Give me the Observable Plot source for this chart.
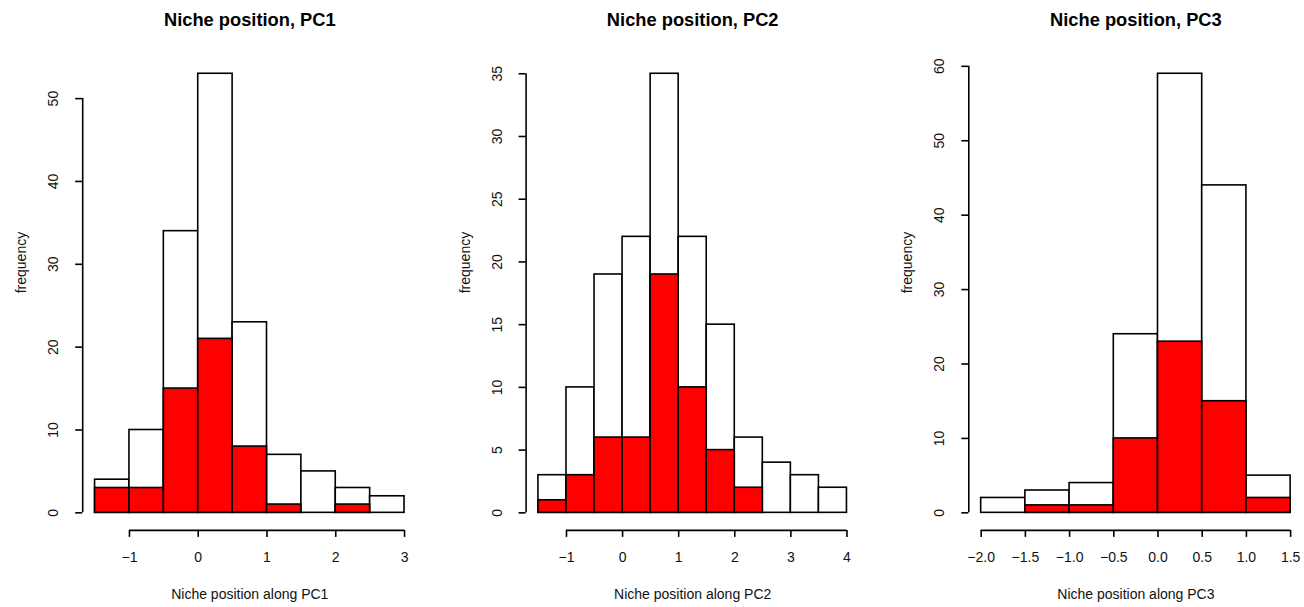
<!DOCTYPE html>
<html>
<head>
<meta charset="utf-8">
<script src="https://cdn.jsdelivr.net/npm/d3@7"></script>
<script src="https://cdn.jsdelivr.net/npm/@observablehq/plot@0.6"></script>
<style>
  html, body { margin: 0; padding: 0; background: #fff; }
  #wrap { position: relative; width: 1304px; height: 607px; overflow: hidden; }
  #wrap svg { position: absolute; top: 0; overflow: visible; }
</style>
</head>
<body>
<div id="wrap"></div>
<script>
// ---- Data ----
// PC1
const pc1Breaks = [-1.5, -1, -0.5, 0, 0.5, 1, 1.5, 2, 2.5, 3];
const pc1Total  = [4, 10, 34, 53, 23, 7, 5, 3, 2];
const pc1Red    = [3, 3, 15, 21, 8, 1, 0, 1, 0];
const pc1XTicks = [-1, 0, 1, 2, 3];
const pc1YTicks = [0, 10, 20, 30, 40, 50];

// PC2
const pc2Breaks = [-1.5, -1, -0.5, 0, 0.5, 1, 1.5, 2, 2.5, 3, 3.5, 4];
const pc2Total  = [3, 10, 19, 22, 35, 22, 15, 6, 4, 3, 2];
const pc2Red    = [1, 3, 6, 6, 19, 10, 5, 2, 0, 0, 0];
const pc2XTicks = [-1, 0, 1, 2, 3, 4];
const pc2YTicks = [0, 5, 10, 15, 20, 25, 30, 35];

// PC3
const pc3Breaks = [-2, -1.5, -1, -0.5, 0, 0.5, 1, 1.5];
const pc3Total  = [2, 3, 4, 24, 59, 44, 5];
const pc3Red    = [0, 1, 1, 10, 23, 15, 2];
const pc3XTicks = [-2, -1.5, -1, -0.5, 0, 0.5, 1, 1.5];
const pc3YTicks = [0, 10, 20, 30, 40, 50, 60];

const titles  = ["Niche position, PC1", "Niche position, PC2", "Niche position, PC3"];
const xLabels = ["Niche position along PC1", "Niche position along PC2", "Niche position along PC3"];
const yLabel  = "frequency";

const panels = [
  {breaks: pc1Breaks, total: pc1Total, red: pc1Red, xt: pc1XTicks, yt: pc1YTicks, fmt: d3.format("d"),
   left: 0, width: 434, ml: 82.2, mr: 17.6},
  {breaks: pc2Breaks, total: pc2Total, red: pc2Red, xt: pc2XTicks, yt: pc2YTicks, fmt: d3.format("d"),
   left: 434, width: 435, ml: 91.6, mr: 10.2},
  {breaks: pc3Breaks, total: pc3Total, red: pc3Red, xt: pc3XTicks, yt: pc3YTicks, fmt: d3.format(".1f"),
   left: 869, width: 435, ml: 99.3, mr: 1.5}
];

const wrap = document.getElementById("wrap");
const SW = 1.6;
const FS = 14;

panels.forEach((p, i) => {
  const bins = p.total.map((t, j) => ({x1: p.breaks[j], x2: p.breaks[j + 1], total: t, red: p.red[j]}));
  const xmin = p.breaks[0], xmax = p.breaks[p.breaks.length - 1];
  const xr = xmax - xmin;
  const ymax = d3.max(p.total);
  const xDom = [xmin - 0.04 * xr, xmax + 0.04 * xr];
  const yDom = [-0.04 * ymax, ymax * 1.04];
  const yt = p.yt;
  const xt = p.xt;

  const chart = Plot.plot({
    width: p.width,
    height: 607,
    marginLeft: p.ml,
    marginRight: p.mr,
    marginTop: 55.7,
    marginBottom: 77.1,
    style: {fontFamily: "'Liberation Sans', Arial, Helvetica, sans-serif", fontSize: FS + "px", color: "black", background: "transparent"},
    x: {domain: xDom},
    y: {domain: yDom},
    marks: [
      // bars: total (white) then red subset
      Plot.rect(bins, {x1: "x1", x2: "x2", y1: 0, y2: "total", fill: "white", stroke: "black", strokeWidth: SW}),
      Plot.rect(bins.filter(b => b.red > 0), {x1: "x1", x2: "x2", y1: 0, y2: "red", fill: "#ff0000", stroke: "black", strokeWidth: SW}),
      // axis lines (R style: from first to last tick)
      Plot.ruleY([yDom[0]], {x1: xt[0], x2: xt[xt.length - 1], stroke: "black", strokeWidth: SW}),
      Plot.ruleX([xDom[0]], {y1: yt[0], y2: yt[yt.length - 1], stroke: "black", strokeWidth: SW}),
      // x axis ticks + labels
      Plot.axisX({ticks: xt, tickSize: 7, tickPadding: 15, tickFormat: p.fmt, label: null, strokeWidth: SW, fontSize: FS, fill: "#111"}),
      // y axis ticks + rotated labels
      Plot.axisY({ticks: yt, tickSize: 7, tickPadding: 17.5, tickRotate: -90, textAnchor: "middle", tickFormat: d3.format("d"), label: null, strokeWidth: SW, fontSize: FS, fill: "#111"}),
      // titles and axis labels
      Plot.text([titles[i]], {frameAnchor: "top", dy: -30, lineAnchor: "bottom", fontWeight: "bold", fontSize: 18.3, fill: "black"}),
      Plot.text([xLabels[i]], {frameAnchor: "bottom", dy: 64, lineAnchor: "middle", fontSize: FS, fill: "#111"}),
      Plot.text([yLabel], {frameAnchor: "left", dx: -61, rotate: -90, lineAnchor: "middle", fontSize: FS, fill: "#111"})
    ]
  });
  chart.style.left = p.left + "px";
  wrap.appendChild(chart);
});
</script>
</body>
</html>
